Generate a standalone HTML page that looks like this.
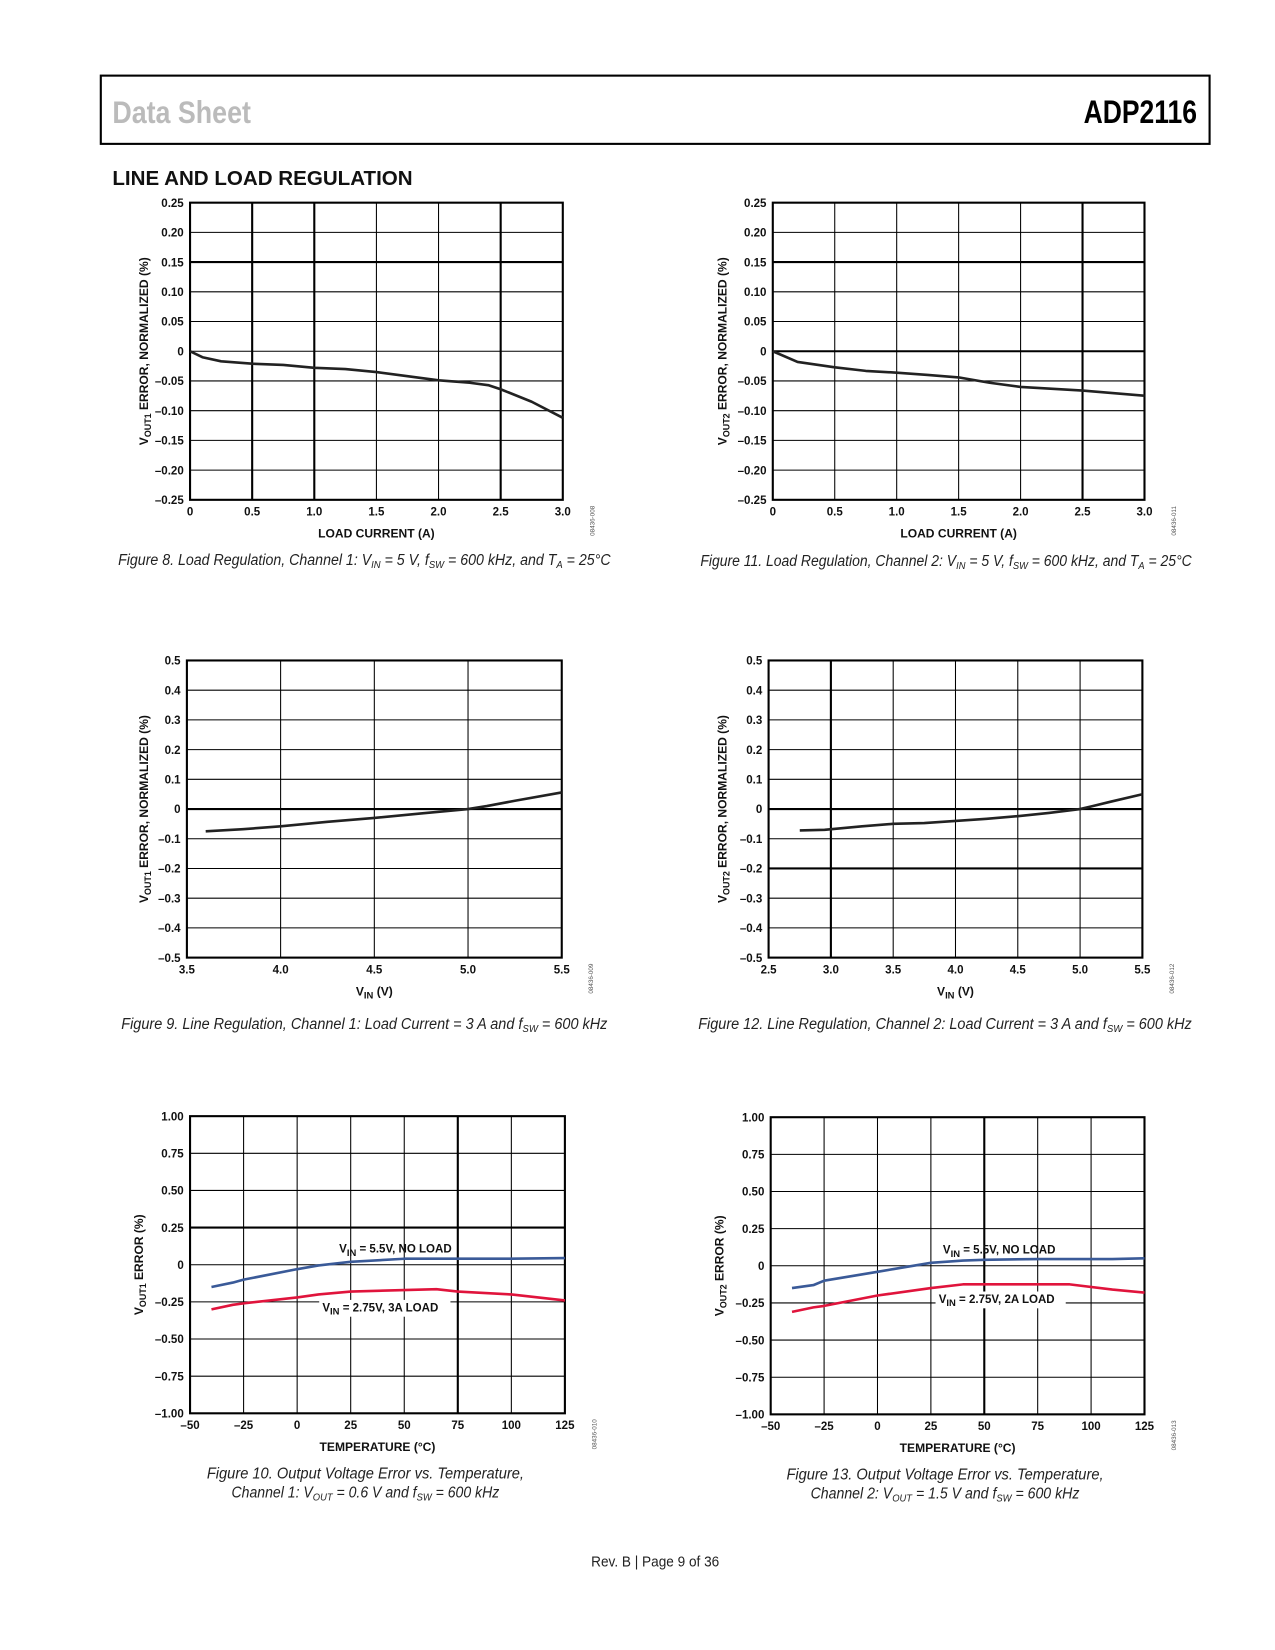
<!DOCTYPE html>
<html><head><meta charset="utf-8"><style>
html,body{margin:0;padding:0;background:#fff;}
svg{display:block;}
.tk{font-family:"Liberation Sans",Arial,sans-serif;font-weight:bold;font-size:11px;fill:#111;}
.ax{font-family:"Liberation Sans",Arial,sans-serif;font-weight:bold;font-size:11.5px;fill:#111;}
.cap{font-family:"Liberation Sans Narrow","Liberation Sans",sans-serif;font-style:italic;font-size:15px;fill:#222;}
.id{font-family:"Liberation Sans",sans-serif;font-size:6px;fill:#555;}
</style></head><body>
<svg id="page" width="1275" height="1650" viewBox="0 0 1214.3 1571.4" xmlns="http://www.w3.org/2000/svg">
<rect x="96" y="72" width="1056" height="65" fill="none" stroke="#000" stroke-width="2"/>
<text x="107" y="117" font-family="Liberation Sans Narrow,Liberation Sans,sans-serif" font-weight="bold" font-size="30" fill="#bbb" textLength="132" lengthAdjust="spacingAndGlyphs">Data Sheet</text>
<text x="1032" y="117" font-family="Liberation Sans Narrow,Liberation Sans,sans-serif" font-weight="bold" font-size="31" fill="#000" textLength="108" lengthAdjust="spacingAndGlyphs">ADP2116</text>
<text x="107" y="176" font-family="Liberation Sans,sans-serif" font-weight="bold" font-size="19" fill="#111" textLength="286" lengthAdjust="spacingAndGlyphs">LINE AND LOAD REGULATION</text>
<text x="563" y="1492" font-family="Liberation Sans Narrow,Liberation Sans,sans-serif" font-size="14" fill="#222" textLength="122" lengthAdjust="spacingAndGlyphs">Rev. B | Page 9 of 36</text>
<g id="charts"></g>
</svg>
<script>
// Figure 8
const f8x=[0,0.1,0.25,0.5,0.75,1.0,1.25,1.5,1.75,2.0,2.25,2.4,2.5,2.75,3.0];
const f8y=[0,-0.01,-0.017,-0.021,-0.023,-0.028,-0.03,-0.035,-0.042,-0.049,-0.053,-0.057,-0.064,-0.085,-0.112];
// Figure 11
const f11x=[0,0.2,0.5,0.75,1.0,1.25,1.5,1.75,2.0,2.5,3.0];
const f11y=[0,-0.018,-0.027,-0.033,-0.036,-0.04,-0.044,-0.053,-0.06,-0.066,-0.075];
// Figure 9
const f9x=[3.6,3.8,4.0,4.25,4.5,4.75,5.0,5.1,5.25,5.5];
const f9y=[-0.075,-0.068,-0.058,-0.043,-0.03,-0.015,0,0.01,0.028,0.056];
// Figure 12
const f12x=[2.75,2.95,3.25,3.5,3.75,4.0,4.25,4.5,4.75,5.0,5.1,5.25,5.5];
const f12y=[-0.072,-0.07,-0.058,-0.05,-0.047,-0.04,-0.033,-0.024,-0.013,0,0.01,0.025,0.05];
// Figure 10
const f10x=[-40,-30,-25,0,10,25,50,65,75,100,125];
const f10blue=[-0.15,-0.12,-0.1,-0.03,-0.005,0.02,0.04,0.04,0.04,0.04,0.045];
const f10red=[-0.3,-0.27,-0.26,-0.22,-0.2,-0.18,-0.17,-0.165,-0.18,-0.2,-0.24];
// Figure 13
const f13x=[-40,-30,-25,0,25,40,50,75,90,110,125];
const f13blue=[-0.15,-0.13,-0.1,-0.04,0.02,0.035,0.04,0.045,0.045,0.045,0.05];
const f13red=[-0.31,-0.28,-0.27,-0.2,-0.15,-0.125,-0.125,-0.125,-0.125,-0.16,-0.18];
// tick labels
const tLoadX=["0","0.5","1.0","1.5","2.0","2.5","3.0"];
const tLoadY=["0.25","0.20","0.15","0.10","0.05","0","\u20130.05","\u20130.10","\u20130.15","\u20130.20","\u20130.25"];
const tVin1X=["3.5","4.0","4.5","5.0","5.5"];
const tVin2X=["2.5","3.0","3.5","4.0","4.5","5.0","5.5"];
const tVinY=["0.5","0.4","0.3","0.2","0.1","0","\u20130.1","\u20130.2","\u20130.3","\u20130.4","\u20130.5"];
const tTempX=["\u201350","\u201325","0","25","50","75","100","125"];
const tTempY=["1.00","0.75","0.50","0.25","0","\u20130.25","\u20130.50","\u20130.75","\u20131.00"];

const NS="http://www.w3.org/2000/svg";
const root=document.getElementById('charts');
function mk(tag,attrs,parent){const e=document.createElementNS(NS,tag);for(const k in attrs)e.setAttribute(k,attrs[k]);(parent||root).appendChild(e);return e;}

function chart(c){
  const g=mk('g',{});
  
  
  const sx=v=>c.L+(v-c.x0)/(c.x1-c.x0)*(c.R-c.L);
  const sy=v=>c.B-(v-c.y0)/(c.y1-c.y0)*(c.B-c.T);
  const nx=c.xt.length-1, ny=c.yt.length-1;
  for(let i=0;i<=nx;i++){
    const x=c.L+i*(c.R-c.L)/nx;
    const ln=mk('line',{x1:x,x2:x,y1:c.T,y2:c.B,stroke:'#000','stroke-width':(c.thickX.includes(i)?2:1)},g);
    
    
    const t=mk('text',{x:x,y:c.B+15,'text-anchor':'middle',class:'tk'},g);
    t.textContent=c.xt[i];
    
    
  }
  for(let i=0;i<=ny;i++){
    const y=c.T+i*(c.B-c.T)/ny;
    const ln=mk('line',{x1:c.L,x2:c.R,y1:y,y2:y,stroke:'#000','stroke-width':(c.thickY.includes(i)?2:1)},g);
    
    
    const t=mk('text',{x:c.L-6,y:y+4,'text-anchor':'end',class:'tk'},g);
    t.textContent=c.yt[i];
    
    
  }
  const fr=mk('rect',{x:c.L,y:c.T,width:c.R-c.L,height:c.B-c.T,fill:'none',stroke:'#000','stroke-width':2},g);
  
  
  c.series.forEach(s=>{
    const d=s.x.map((v,i)=>(i?'L':'M')+sx(v).toFixed(1)+','+sy(s.y[i]).toFixed(1)).join(' ');
    const p=mk('path',{d:d,fill:'none',stroke:s.color,'stroke-width':2.5,'stroke-linejoin':'round'},g);
    
    
  });
  (c.labels||[]).forEach(l=>{
    if(l.bg){const r=mk('rect',{x:l.x-3,y:l.y-11,width:l.w,height:16,fill:'#fff'},g);
      
      }
    const t=mk('text',{x:l.x,y:l.y,class:'tk','font-weight':'normal'},g);
    t.setAttribute('font-size','12');
    
    
    t.innerHTML='V<tspan font-size="9" dy="3">IN</tspan><tspan dy="-3"> '+l.text+'</tspan>';
  });
  const xt=mk('text',{x:(c.L+c.R)/2,y:c.B+36,'text-anchor':'middle',class:'ax'},g);
  xt.innerHTML=c.xtitle;
  
  
  const yc=(c.T+c.B)/2, yx=c.ytx;
  const yt=mk('text',{x:0,y:0,'text-anchor':'middle',class:'ax',transform:`translate(${yx},${yc}) rotate(-90)`},g);
  yt.innerHTML='V<tspan font-size="8.5" dy="3">'+c.sub+'</tspan><tspan dy="-3"> '+c.ytitle+'</tspan>';
  
  
  const id=mk('text',{x:0,y:0,'text-anchor':'middle',class:'id',transform:`translate(${c.R+30},${c.B+20}) rotate(-90)`},g);
  id.textContent=c.id;
  
  
  const cp=mk('text',{x:c.capX-c.capW/2,y:c.capY,class:'cap',textLength:c.capW,lengthAdjust:'spacingAndGlyphs'},g);
  cp.innerHTML=c.cap;
  
  
  if(c.cap2){const cp2=mk('text',{x:c.capX-c.capW2/2,y:c.capY+18,class:'cap',textLength:c.capW2,lengthAdjust:'spacingAndGlyphs'},g);
    cp2.innerHTML=c.cap2;
    
    }
}
const sub=(s)=>'<tspan font-size="10" dy="3">'+s+'</tspan><tspan dy="-3">';
const E='</tspan>';
chart({name:'figure-8-chart',L:181,R:536,T:193,B:476,x0:0,x1:3,y0:-0.25,y1:0.25,xt:tLoadX,yt:tLoadY,thickX:[1,2,5],thickY:[2],
  series:[{name:'load-regulation-line',x:f8x,y:f8y,color:'#222'}],xtitle:'LOAD CURRENT (A)',sub:'OUT1',ytitle:'ERROR, NORMALIZED (%)',ytx:141,id:'08436-008',
  capX:347,capY:538,capW:469,cap:'Figure 8. Load Regulation, Channel 1: V'+sub('IN')+' = 5 V, f'+E+sub('SW')+' = 600 kHz, and T'+E+sub('A')+' = 25°C'+E});
chart({name:'figure-11-chart',L:736,R:1090,T:193,B:476,x0:0,x1:3,y0:-0.25,y1:0.25,xt:tLoadX,yt:tLoadY,thickX:[5],thickY:[2,5],
  series:[{name:'load-regulation-line',x:f11x,y:f11y,color:'#222'}],xtitle:'LOAD CURRENT (A)',sub:'OUT2',ytitle:'ERROR, NORMALIZED (%)',ytx:692,id:'08436-011',
  capX:901,capY:539,capW:468,cap:'Figure 11. Load Regulation, Channel 2: V'+sub('IN')+' = 5 V, f'+E+sub('SW')+' = 600 kHz, and T'+E+sub('A')+' = 25°C'+E});
chart({name:'figure-9-chart',L:178,R:535,T:629,B:912,x0:3.5,x1:5.5,y0:-0.5,y1:0.5,xt:tVin1X,yt:tVinY,thickX:[],thickY:[5],
  series:[{name:'line-regulation-line',x:f9x,y:f9y,color:'#222'}],xtitle:'V<tspan font-size="9" dy="3">IN</tspan><tspan dy="-3"> (V)</tspan>',sub:'OUT1',ytitle:'ERROR, NORMALIZED (%)',ytx:141,id:'08436-009',
  capX:347,capY:980,capW:463,cap:'Figure 9. Line Regulation, Channel 1: Load Current = 3 A and f'+sub('SW')+' = 600 kHz'+E});
chart({name:'figure-12-chart',L:732,R:1088,T:629,B:912,x0:2.5,x1:5.5,y0:-0.5,y1:0.5,xt:tVin2X,yt:tVinY,thickX:[1],thickY:[5,7],
  series:[{name:'line-regulation-line',x:f12x,y:f12y,color:'#222'}],xtitle:'V<tspan font-size="9" dy="3">IN</tspan><tspan dy="-3"> (V)</tspan>',sub:'OUT2',ytitle:'ERROR, NORMALIZED (%)',ytx:692,id:'08436-012',
  capX:900,capY:980,capW:470,cap:'Figure 12. Line Regulation, Channel 2: Load Current = 3 A and f'+sub('SW')+' = 600 kHz'+E});
chart({name:'figure-10-chart',L:181,R:538,T:1063,B:1346,x0:-50,x1:125,y0:-1,y1:1,xt:tTempX,yt:tTempY,thickX:[5],thickY:[3],
  series:[{name:'vin-5v5-no-load-line',x:f10x,y:f10blue,color:'#3a5a98'},{name:'vin-2v75-3a-load-line',x:f10x,y:f10red,color:'#e0143c'}],
  labels:[{x:323,y:1193,text:'= 5.5V, NO LOAD'},{x:307,y:1249,text:'= 2.75V, 3A LOAD',bg:true,w:125}],
  xtitle:'TEMPERATURE (°C)',sub:'OUT1',ytitle:'ERROR (%)',ytx:136,id:'08436-010',
  capX:348,capY:1408,capW:302,capW2:255,cap:'Figure 10. Output Voltage Error vs. Temperature,',cap2:'Channel 1: V'+sub('OUT')+' = 0.6 V and f'+E+sub('SW')+' = 600 kHz'+E});
chart({name:'figure-13-chart',L:734,R:1090,T:1064,B:1347,x0:-50,x1:125,y0:-1,y1:1,xt:tTempX,yt:tTempY,thickX:[4],thickY:[],
  series:[{name:'vin-5v5-no-load-line',x:f13x,y:f13blue,color:'#3a5a98'},{name:'vin-2v75-2a-load-line',x:f13x,y:f13red,color:'#e0143c'}],
  labels:[{x:898,y:1194,text:'= 5.5V, NO LOAD'},{x:894,y:1241,text:'= 2.75V, 2A LOAD',bg:true,w:124}],
  xtitle:'TEMPERATURE (°C)',sub:'OUT2',ytitle:'ERROR (%)',ytx:689,id:'08436-013',
  capX:900,capY:1409,capW:302,capW2:256,cap:'Figure 13. Output Voltage Error vs. Temperature,',cap2:'Channel 2: V'+sub('OUT')+' = 1.5 V and f'+E+sub('SW')+' = 600 kHz'+E});
</script>
</body></html>
